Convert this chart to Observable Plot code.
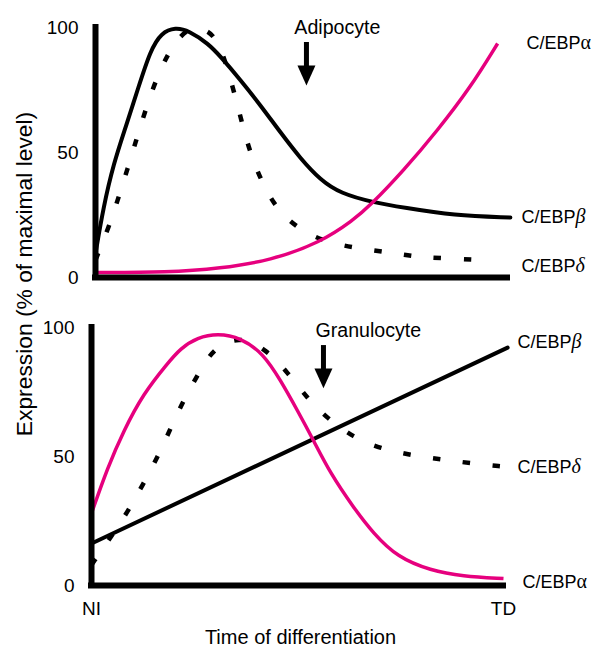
<!DOCTYPE html>
<html>
<head>
<meta charset="utf-8">
<script src="https://cdn.jsdelivr.net/npm/d3@7"></script>
<script src="https://cdn.jsdelivr.net/npm/@observablehq/plot@0.6"></script>
<style>
  html, body { margin: 0; padding: 0; background: #fff; }
  #chart { position: relative; width: 591px; height: 651px; font-family: 'Liberation Sans', Arial, sans-serif; color: #000; }
  #chart svg { position: absolute; left: 0; }
  #ytitle { position: absolute; left: 24px; top: 274px; transform: translate(-50%, -50%) rotate(-90deg); white-space: nowrap; font-size: 22.8px; }
</style>
</head>
<body>
<div id="chart"><div id="ytitle"></div></div>
<script>
// ---------- data (% of maximal level vs. time 0..100) ----------
const yTicks = [0, 50, 100];
const xTicks = [0, 100];
const xTickLabels = ["NI", "TD"];
const xTitle = "Time of differentiation";
const yTitle = "Expression (% of maximal level)";

// Top panel: adipocyte
const topBetaX  = [0, 1.9, 4.4, 7.3, 10.4, 13.3, 16, 19.4, 22.6, 27.4, 30.3, 35.2, 40, 44.9, 49.8, 54.6, 59.5, 67.5, 74.8, 86.9, 100.7];
const topBetaY  = [9.6, 28, 45.6, 60, 76, 90.8, 98, 100, 98.8, 93.5, 88.5, 79, 69, 58, 47.5, 39, 33.6, 30, 28, 24.8, 24];
const topDeltaX = [0, 3.2, 5.6, 7.8, 10, 12.1, 14.6, 17.7, 20.5, 23.1, 26, 29.1, 32, 35.7, 37.6, 40.5, 44.2, 49.8, 56.3, 63.8, 71.6, 78.9, 86.9, 95.5];
const topDeltaY = [7, 20, 32, 43.6, 55.6, 66.8, 78.8, 90, 96.5, 99.8, 99.6, 96.8, 84.8, 60.8, 49.6, 37.6, 26.8, 18.8, 14, 11.6, 10, 8, 7.6, 6.8];
const topAlphaX = [0, 17.5, 30.3, 42.5, 54.6, 62.6, 66.7, 74.8, 83, 91, 97.6];
const topAlphaY = [2, 2, 3.6, 6.8, 14, 23, 28.8, 42.8, 58.8, 76, 93.6];
const topLabelNames  = ["C/EBPα", "C/EBPβ", "C/EBPδ"];
const topLabelLevels = [93.6, 24, 4.4];
const topTitle = "Adipocyte";
const topTitleAt = [58.7, 100];
const topArrow = {x: 51.2, from: 94, to: 76.8};

// Bottom panel: granulocyte
const botAlphaX = [0, 3.9, 7.8, 12.6, 18.4, 21.6, 25.7, 30.6, 36.2, 41.7, 45.9, 50, 53.9, 58, 63.6, 68.4, 74.3, 82.3, 90, 100];
const botAlphaY = [28, 45.7, 60, 74.4, 86, 91.9, 96.1, 97.7, 96.1, 89.9, 79.5, 67.8, 56.2, 43.4, 30.2, 20.2, 10.9, 5.8, 3.6, 2.7];
const botBetaX  = [0, 101];
const botBetaY  = [16.3, 92.2];
const botDeltaX = [0, 4.6, 8.7, 12.6, 16, 19.2, 22.3, 26, 29.6, 36.2, 42.7, 47.6, 52.4, 57.3, 63.6, 70.1, 77.9, 85.2, 92.5, 100];
const botDeltaY = [8, 18.6, 28.3, 39.5, 49.6, 60.9, 71.7, 82.2, 92.2, 96.9, 91.1, 82.6, 72.5, 64.7, 57.4, 53.1, 50.4, 48.8, 47.3, 46.1];
const botLabelNames  = ["C/EBPβ", "C/EBPδ", "C/EBPα"];
const botLabelLevels = [94.2, 45.7, 1.2];
const botTitle = "Granulocyte";
const botTitleAt = [67.2, 98.8];
const botArrow = {x: 56.3, from: 93, to: 76.4};

// ---------- helpers ----------
const magenta = "#e6007e";
const zip = (xs, ys) => xs.map((x, i) => ({x, y: ys[i]}));
const downTriangle = {
  draw(context, size) {
    const r = Math.sqrt(size / Math.PI);
    context.moveTo(-r, -1.1 * r);
    context.lineTo(r, -1.1 * r);
    context.lineTo(0, 1.1 * r);
    context.closePath();
  }
};
const baseStyle = {fontFamily: "'Liberation Sans', Arial, sans-serif", fontSize: "19px", color: "#000", background: "transparent", overflow: "visible"};

function panelMarks({beta, delta, alpha, labels, levels, title, titleAt, arrow}) {
  const lab = labels.map((name, i) => ({name, y: levels[i], alpha: name.endsWith("α")}));
  return [
    Plot.line(delta, {x: "x", y: "y", curve: "basis", stroke: "#000", strokeWidth: 4.5, strokeDasharray: "7.5,22.5", strokeLinecap: "butt"}),
    Plot.line(beta, {x: "x", y: "y", curve: "basis", stroke: "#000", strokeWidth: 4, strokeLinecap: "round", strokeLinejoin: "round"}),
    Plot.line(alpha, {x: "x", y: "y", curve: "basis", stroke: magenta, strokeWidth: 3.5, strokeLinecap: "butt"}),
    Plot.ruleX([0], {stroke: "#000", strokeWidth: 6, strokeLinecap: "square"}),
    Plot.ruleY([0], {stroke: "#000", strokeWidth: 6, strokeLinecap: "square"}),
    Plot.axisY({ticks: yTicks, tickSize: 0, tickPadding: 17, label: null, fontSize: 19}),
    Plot.text(lab.filter(d => !d.alpha), {x: () => 100, y: "y", text: "name", textAnchor: "start", dx: 14, fontSize: 18, fill: "#000"}),
    Plot.text(lab.filter(d => d.alpha), {x: () => 100, y: "y", text: "name", textAnchor: "start", dx: 19, fontSize: 18, fill: "#000"}),
    Plot.text([title], {x: () => titleAt[0], y: () => titleAt[1], text: d => d, fontSize: 19.6, fill: "#000"}),
    Plot.ruleX([arrow], {x: "x", y1: "from", y2: "to", insetBottom: 8, stroke: "#000", strokeWidth: 5}),
    Plot.dot([arrow], {x: "x", y: "to", dy: -10, symbol: downTriangle, r: 9, fill: "#000", stroke: "none"})
  ];
}

function greekify(svg) {
  d3.select(svg).selectAll("text").each(function () {
    const m = /^C\/EBP([αβδ])$/.exec(this.textContent);
    if (!m) return;
    this.textContent = "";
    d3.select(this).append("tspan").text("C/EBP");
    d3.select(this).append("tspan")
      .attr("font-family", "'Liberation Serif', 'DejaVu Serif', serif")
      .attr("font-style", m[1] === "α" ? "normal" : "italic")
      .attr("font-size", "20px")
      .text(m[1]);
  });
}

const chart = document.getElementById("chart");
document.getElementById("ytitle").textContent = yTitle;

const topPlot = Plot.plot({
  width: 591, height: 300,
  marginLeft: 95, marginRight: 84, marginTop: 27, marginBottom: 23,
  x: {domain: [0, 100], axis: null},
  y: {domain: [0, 100], axis: null},
  style: baseStyle,
  marks: panelMarks({
    beta: zip(topBetaX, topBetaY), delta: zip(topDeltaX, topDeltaY), alpha: zip(topAlphaX, topAlphaY),
    labels: topLabelNames, levels: topLabelLevels, title: topTitle, titleAt: topTitleAt, arrow: topArrow
  })
});
topPlot.style.top = "0px";
greekify(topPlot);
chart.appendChild(topPlot);

const bottomPlot = Plot.plot({
  width: 591, height: 351,
  marginLeft: 91, marginRight: 88, marginTop: 27, marginBottom: 66,
  x: {domain: [0, 100], axis: null},
  y: {domain: [0, 100], axis: null},
  style: baseStyle,
  marks: [
    ...panelMarks({
      beta: zip(botBetaX, botBetaY), delta: zip(botDeltaX, botDeltaY), alpha: zip(botAlphaX, botAlphaY),
      labels: botLabelNames, levels: botLabelLevels, title: botTitle, titleAt: botTitleAt, arrow: botArrow
    }),
    Plot.axisX({ticks: xTicks, tickFormat: d => xTickLabels[xTicks.indexOf(d)], tickSize: 0, tickPadding: 16, label: null, fontSize: 19}),
    Plot.text([xTitle], {frameAnchor: "bottom", dy: 58, dx: 3, text: d => d, fontSize: 20, fill: "#000"})
  ]
});
bottomPlot.style.top = "300px";
greekify(bottomPlot);
chart.appendChild(bottomPlot);
</script>
</body>
</html>
